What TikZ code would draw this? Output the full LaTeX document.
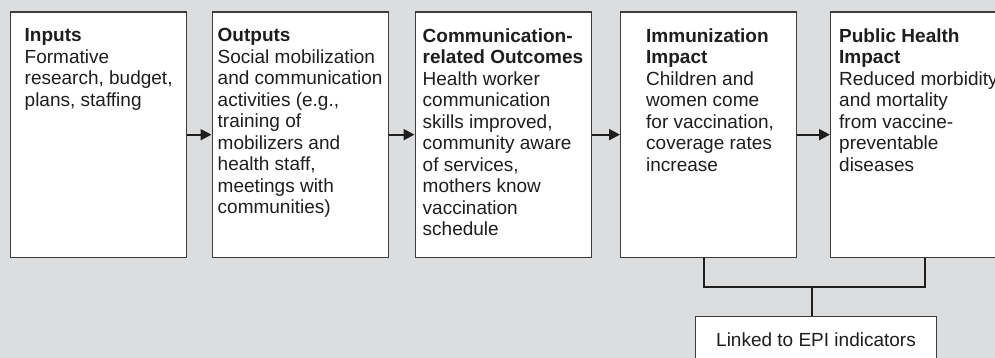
\documentclass[tikz,border=0pt]{standalone}
\usepackage{fontspec}
\setmainfont{Liberation Sans}
\usetikzlibrary{positioning, calc, arrows.meta}
\definecolor{panelgray}{RGB}{220,221,223}
\definecolor{edgegray}{RGB}{60,60,60}
\definecolor{inkgray}{RGB}{30,30,30}
\tikzset{
	stage/.style={draw=edgegray, fill=white, line width=1.3pt, minimum width=176pt, minimum height=245pt, inner sep=0pt},
	stagetext/.style={anchor=north west, align=left, inner sep=0pt, text=inkgray, font=\fontsize{19}{21.5}\selectfont},
	note/.style={draw=edgegray, fill=white, line width=1.3pt, minimum width=241pt, minimum height=47pt, inner sep=0pt, text=inkgray, font=\fontsize{19}{21.5}\selectfont},
	flow/.style={draw=inkgray, line width=2pt, -{Triangle[length=11pt,width=11pt]}},
	link/.style={draw=inkgray, line width=2pt}
}

\begin{document}
\begin{tikzpicture}[x=1pt, y=-1pt]
	\useasboundingbox (0,0) rectangle (995,358);
	\clip (0,0) rectangle (995,358);
	\fill[panelgray] (0,0) rectangle (995,358);

	\node[stage, anchor=north west] (inputs) at (9.5,11.5) {};
	\node[stage, right=24.7pt of inputs] (outputs) {};
	\node[stage, right=25.7pt of outputs] (outcomes) {};
	\node[stage, right=28.2pt of outcomes] (immimpact) {};
	\node[stage, right=32.7pt of immimpact] (phimpact) {};
	\node[note, anchor=north] (epi) at (816,316) {Linked to EPI indicators};

	\node[stagetext] (inputs-txt) at ([xshift=15pt,yshift=-17pt]inputs.north west)
		{\textbf{Inputs}\\Formative\\research, budget,\\plans, staffing};
	\node[stagetext] (outputs-txt) at ([xshift=6pt,yshift=-17pt]outputs.north west)
		{\textbf{Outputs}\\Social mobilization\\and communication\\activities (e.g.,\\training of\\mobilizers and\\health staff,\\meetings with\\communities)};
	\node[stagetext] (outcomes-txt) at ([xshift=8pt,yshift=-17pt]outcomes.north west)
		{\textbf{Communication-}\\\textbf{related Outcomes}\\Health worker\\communication\\skills improved,\\community aware\\of services,\\mothers know\\vaccination\\schedule};
	\node[stagetext] (immimpact-txt) at ([xshift=26pt,yshift=-17pt]immimpact.north west)
		{\textbf{Immunization}\\\textbf{Impact}\\Children and\\women come\\for vaccination,\\coverage rates\\increase};
	\node[stagetext] (phimpact-txt) at ([xshift=9pt,yshift=-17pt]phimpact.north west)
		{\textbf{Public Health}\\\textbf{Impact}\\Reduced morbidity\\and mortality\\from vaccine-\\preventable\\diseases};

	\draw[flow] (inputs) -- (outputs);
	\draw[flow] (outputs) -- (outcomes);
	\draw[flow] (outcomes) -- (immimpact);
	\draw[flow] (immimpact) -- (phimpact);

	\coordinate (joint) at (812,287);
	\draw[link] ([xshift=-4.5pt]immimpact.south) |- (joint)
		-| ([xshift=6.5pt]phimpact.south);
	\draw[link] (joint) -- (epi.north -| joint);
\end{tikzpicture}
\end{document}
